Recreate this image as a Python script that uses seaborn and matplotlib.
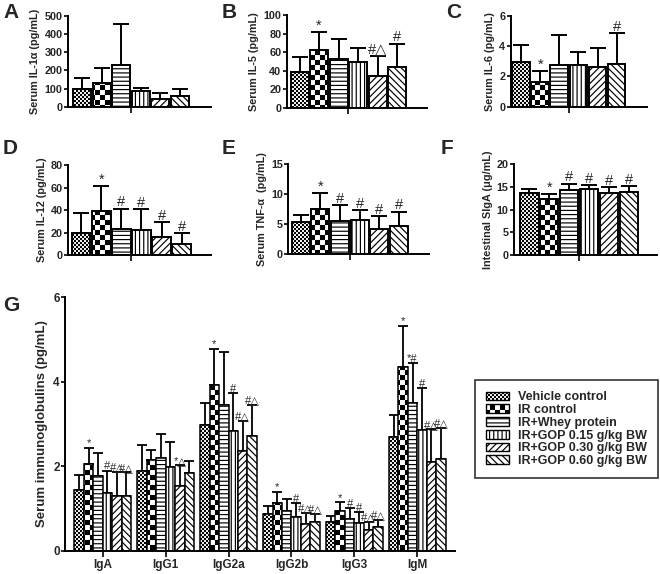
import numpy as np
import pandas as pd
import matplotlib
matplotlib.use("Agg")
import matplotlib.pyplot as plt
import matplotlib.hatch as mhatch
from matplotlib.path import Path
from matplotlib.patches import Patch
import seaborn as sns

# ---------------- data ----------------
groups = ["Vehicle control", "IR control", "IR+Whey protein",
          "IR+GOP 0.15 g/kg BW", "IR+GOP 0.30 g/kg BW", "IR+GOP 0.60 g/kg BW"]

il1a_mean = [97, 133, 230, 89, 44, 62]
il1a_sd = [60, 79, 223, 17, 31, 35]
il1a_sig = ["", "", "", "", "", ""]

il5_mean = [38, 62, 52, 49, 34, 44]
il5_sd = [17, 20, 22, 15, 22, 25]
il5_sig = ["", "*", "", "", "#△", "#"]

il6_mean = [2.95, 1.63, 2.75, 2.75, 2.6, 2.8]
il6_sd = [1.12, 0.74, 2.0, 0.84, 1.25, 2.06]
il6_sig = ["", "*", "", "", "", "#"]

il12_mean = [20, 39, 23, 22.5, 16, 10]
il12_sd = [17.7, 22.2, 18.3, 18.5, 13.5, 9.5]
il12_sig = ["", "*", "#", "#", "#", "#"]

tnfa_mean = [5.3, 7.45, 5.5, 5.63, 4.19, 4.64]
tnfa_sd = [1.26, 2.65, 2.6, 1.71, 2.1, 2.41]
tnfa_sig = ["", "*", "#", "#", "#", "#"]

siga_mean = [13.6, 12.4, 14.4, 14.45, 13.7, 13.9]
siga_sd = [1.0, 1.1, 1.3, 0.85, 1.3, 1.2]
siga_sig = ["", "*", "#", "#", "#", "#"]

ig_names = ["IgA", "IgG1", "IgG2a", "IgG2b", "IgG3", "IgM"]
iga_mean = [1.445, 2.06, 1.76, 1.37, 1.29, 1.29]
iga_sd = [0.335, 0.38, 0.54, 0.52, 0.58, 0.56]
iga_sig = ["", "*", "", "#", "#△", "#△"]
igg1_mean = [1.88, 2.14, 2.2, 1.98, 1.52, 1.84]
igg1_sd = [0.62, 0.25, 0.55, 0.6, 0.5, 0.28]
igg1_sig = ["", "", "", "", "*△", ""]
igg2a_mean = [2.97, 3.93, 3.45, 2.82, 2.36, 2.71]
igg2a_sd = [0.52, 0.85, 1.25, 0.9, 0.71, 0.74]
igg2a_sig = ["", "*", "", "#", "#△", "#△"]
igg2b_mean = [0.87, 1.13, 0.93, 0.8, 0.64, 0.69]
igg2b_sd = [0.18, 0.27, 0.3, 0.33, 0.25, 0.18]
igg2b_sig = ["", "*", "", "#", "#△", "#△"]
igg3_mean = [0.67, 0.93, 0.75, 0.65, 0.48, 0.55]
igg3_sd = [0.14, 0.22, 0.25, 0.26, 0.21, 0.18]
igg3_sig = ["", "*", "#", "#", "#△", "#△"]
igm_mean = [2.7, 4.34, 3.49, 2.85, 2.1, 2.18]
igm_sd = [0.51, 0.98, 0.95, 0.99, 0.77, 0.73]
igm_sig = ["", "*", "*#", "#", "#△", "#△"]

# ---------------- custom checkerboard hatch ('*' -> checker) ----------------
class CheckerHatch(mhatch.HatchPatternBase):
    def __init__(self, hatch, density):
        self.n = hatch.count("*") * 10
        self.num_vertices = (self.n * self.n // 2) * 5 if self.n else 0

    def set_vertices_and_codes(self, vertices, codes):
        n = self.n
        s = 1.0 / n
        inset = 0.0055
        sq = np.array([[inset, inset], [s - inset, inset], [s - inset, s - inset],
                       [inset, s - inset], [inset, inset]])
        parts = []
        for i in range(n):
            for j in range(n):
                if (i + j) % 2 == 0:
                    parts.append(sq + [i * s, j * s])
        vertices[:] = np.concatenate(parts)
        c = np.array([Path.MOVETO, Path.LINETO, Path.LINETO, Path.LINETO, Path.CLOSEPOLY])
        codes[:] = np.tile(c, len(parts))


mhatch._hatch_types = [t for t in mhatch._hatch_types if t is not mhatch.Stars] + [CheckerHatch]

hatches = ["*****", "**", "----", "||||", "/////", "\\\\\\\\\\"]

# ---------------- style ----------------
sns.set_style("ticks")
plt.rcParams["font.family"] = ["Liberation Sans", "DejaVu Sans"]
plt.rcParams["hatch.linewidth"] = 0.85
plt.rcParams["hatch.color"] = "black"

W, H = 660, 574
fig = plt.figure(figsize=(6.6, 5.74), dpi=100)


def rect(x0, x1, ytop, ybot):
    return [x0 / W, 1 - ybot / H, (x1 - x0) / W, (ybot - ytop) / H]


def style_axes(ax, lw=1.4, fs=7.8):
    for sp in ["top", "right"]:
        ax.spines[sp].set_visible(False)
    for sp in ["left", "bottom"]:
        ax.spines[sp].set_linewidth(lw)
        ax.spines[sp].set_color("black")
    ax.tick_params(axis="y", length=2.8, width=lw, pad=1, labelsize=fs, direction="out")
    ax.tick_params(axis="x", length=4.2, width=lw, pad=2, direction="out")
    for lab in ax.get_yticklabels():
        lab.set_fontweight("bold")


small_panels = [
    ("A", il1a_mean, il1a_sd, il1a_sig, "Serum IL-1α (pg/mL)", 500, 100, rect(68, 211, 15.7, 107), (-0.71, 6.58)),
    ("B", il5_mean, il5_sd, il5_sig, "Serum IL-5 (pg/mL)", 100, 20, rect(286.7, 426.7, 15, 107.7), (-0.66, 6.52)),
    ("C", il6_mean, il6_sd, il6_sig, "Serum IL-6 (pg/mL)", 6, 2, rect(510.7, 646.7, 15.7, 106.7), (-0.54, 6.57)),
    ("D", il12_mean, il12_sd, il12_sig, "Serum IL-12 (pg/mL)", 80, 20, rect(68.3, 211, 165, 255.3), (-0.64, 6.46)),
    ("E", tnfa_mean, tnfa_sd, tnfa_sig, "Serum TNF-α  (pg/mL)", 15, 5, rect(288.3, 429, 163.7, 254.3), (-0.64, 6.55)),
    ("F", siga_mean, siga_sd, siga_sig, "Intestinal SIgA (μg/mL)", 20, 5, rect(514, 657, 164, 255.3), (-0.78, 6.43)),
]

letter_pos = {"A": (3, 12.5), "B": (222, 12.5), "C": (446, 12.5),
              "D": (3, 149), "E": (222, 149), "F": (441, 149), "G": (3, 306)}

for letter, mean, sd, sig, ylab, ymax, ystep, r, xl in small_panels:
    ax = fig.add_axes(r)
    df = pd.DataFrame({"group": groups, "value": mean})
    sns.barplot(data=df, x="group", y="value", order=groups, ax=ax, color="white",
                edgecolor="black", linewidth=1.4, width=0.92, errorbar=None, zorder=2)
    bars = list(ax.patches)
    for p, h in zip(bars, hatches):
        p.set_hatch(h)
        p.set_facecolor("white")
    xs = [p.get_x() + p.get_width() / 2 for p in bars]
    ax.errorbar(xs, mean, yerr=[np.zeros(len(sd)), sd], fmt="none", ecolor="black",
                elinewidth=1.4, capsize=6, capthick=1.4, zorder=1)
    for x, m, s, t in zip(xs, mean, sd, sig):
        if t:
            ax.annotate(t, (x, m + s), xytext=(0, -0.5), textcoords="offset points",
                        ha="center", va="bottom", fontsize=10.5)
    ax.set_xlim(*xl)
    ax.set_ylim(0, ymax)
    ax.set_yticks(np.arange(0, ymax + ystep / 2, ystep))
    ax.set_xticks([2.5])
    ax.set_xticklabels([""])
    ax.set_xlabel("")
    ax.set_ylabel(ylab, fontsize=7.8, fontweight="bold", labelpad=3)
    style_axes(ax)

# ---------------- panel G ----------------
axg = fig.add_axes(rect(65, 455, 297, 550.7))
g_means = [iga_mean, igg1_mean, igg2a_mean, igg2b_mean, igg3_mean, igm_mean]
g_sds = [iga_sd, igg1_sd, igg2a_sd, igg2b_sd, igg3_sd, igm_sd]
g_sigs = [iga_sig, igg1_sig, igg2a_sig, igg2b_sig, igg3_sig, igm_sig]
rows = []
for ig, m in zip(ig_names, g_means):
    for g, v in zip(groups, m):
        rows.append({"ig": ig, "group": g, "value": v})
dfg = pd.DataFrame(rows)
sns.barplot(data=dfg, x="ig", y="value", hue="group", order=ig_names, hue_order=groups,
            palette={g: "white" for g in groups}, ax=axg, edgecolor="black",
            linewidth=1.1, width=0.9, errorbar=None, legend=False, zorder=2)
bar_containers = list(axg.containers)
for gi, cont in enumerate(bar_containers):
    h = hatches[gi]
    xs, ms, ss, ts = [], [], [], []
    for ii, p in enumerate(cont.patches):
        p.set_hatch(h)
        p.set_facecolor("white")
        xs.append(p.get_x() + p.get_width() / 2)
        ms.append(g_means[ii][gi])
        ss.append(g_sds[ii][gi])
        ts.append(g_sigs[ii][gi])
    axg.errorbar(xs, ms, yerr=[np.zeros(len(ss)), ss], fmt="none", ecolor="black",
                 elinewidth=1.3, capsize=3.5, capthick=1.3, zorder=1)
    for x, m, s, t in zip(xs, ms, ss, ts):
        if t:
            axg.annotate(t, (x, m + s), xytext=(0, -0.5), textcoords="offset points",
                         ha="center", va="bottom", fontsize=8)
axg.set_xlim(-0.6, 5.6)
axg.set_ylim(0, 6)
axg.set_yticks([0, 2, 4, 6])
axg.set_xlabel("")
axg.set_ylabel("Serum immunoglobulins (pg/mL)", fontsize=9.5, fontweight="bold", labelpad=4)
style_axes(axg, lw=1.4, fs=8.5)
for lab in axg.get_xticklabels():
    lab.set_fontweight("bold")
    lab.set_fontsize(8.5)

# legend
handles = [Patch(facecolor="white", edgecolor="black", hatch=h, linewidth=1.0, label=g)
           for g, h in zip(groups, hatches)]
leg = fig.legend(handles=handles, loc="upper left", bbox_to_anchor=(475 / W, 1 - 380 / H),
                 frameon=True, fancybox=False, edgecolor="black",
                 prop={"weight": "bold", "size": 9}, handlelength=1.8, handleheight=0.7,
                 handletextpad=0.7, labelspacing=0.06, borderpad=0.9, borderaxespad=0)
leg.get_frame().set_linewidth(1.2)

for k, (x, y) in letter_pos.items():
    fig.text(x / W, 1 - y / H, k, fontsize=15, fontweight="bold", ha="left", va="center")

fig.savefig("out.png", dpi=100)
